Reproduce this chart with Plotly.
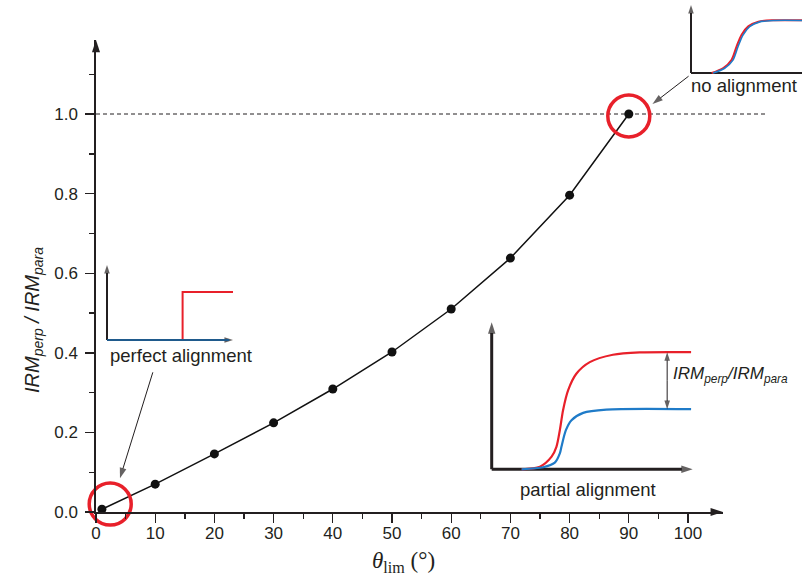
import plotly.graph_objects as go

W, H = 802, 578

# ---------------- data ----------------
theta_lim = [1, 10, 20, 30, 40, 50, 60, 70, 80, 90]
irm_ratio = [0.007, 0.070, 0.146, 0.224, 0.309, 0.402, 0.510, 0.638, 0.796, 1.0]

x_tick_vals = [0, 10, 20, 30, 40, 50, 60, 70, 80, 90, 100]
x_minor_vals = [5, 15, 25, 35, 45, 55, 65, 75, 85, 95]
y_tick_vals = [0.0, 0.2, 0.4, 0.6, 0.8, 1.0]
y_tick_text = ["0.0", "0.2", "0.4", "0.6", "0.8", "1.0"]
y_minor_vals = [0.1, 0.3, 0.5, 0.7, 0.9, 1.1]

# highlighted regions (red circles)
circle_theta = [2.4, 90.0]
circle_ratio = [0.02, 0.995]

# pointer arrows (tail -> tip) in data units
ptr_low_x = [9.6, 4.05]
ptr_low_y = [0.351, 0.085]
ptr_high_x = [100.1, 94.0]
ptr_high_y = [1.095, 1.025]

# inset: perfect alignment (local units 0..1)
perf_red_x = [0.6, 0.6, 1.0]
perf_red_y = [0.0, 0.64, 0.64]
perf_blue_x = [0.0, 0.97]
perf_blue_y = [0.0, 0.0]

# inset: partial alignment
part_red_x = [0.149, 0.240, 0.298, 0.322, 0.339, 0.355, 0.380, 0.421, 0.488, 0.603, 0.736, 0.992]
part_red_y = [0.0, 0.018, 0.086, 0.153, 0.266, 0.402, 0.537, 0.650, 0.729, 0.779, 0.795, 0.797]
part_blue_x = [0.149, 0.256, 0.314, 0.339, 0.347, 0.369, 0.397, 0.455, 0.570, 0.992]
part_blue_y = [0.0, 0.014, 0.045, 0.108, 0.153, 0.266, 0.334, 0.384, 0.406, 0.409]
part_gap_x = 0.873

# inset: no alignment
none_red_x = [0.186, 0.291, 0.366, 0.411, 0.456, 0.516, 0.607, 0.742, 1.0]
none_red_y = [0.0, 0.074, 0.196, 0.392, 0.564, 0.686, 0.755, 0.775, 0.775]
none_blue_x = [0.198, 0.303, 0.378, 0.423, 0.468, 0.528, 0.619, 0.754, 1.0]
none_blue_y = [0.0, 0.070, 0.190, 0.385, 0.558, 0.682, 0.752, 0.773, 0.773]

# ---------------- layout geometry ----------------
X0PX, Y0PX = 96, 512
XSCALE, YSCALE = 5.92, 398.0
XMAX, YMAX = 105.9, 1.186

INK = "#231f20"
RED = "#e8202a"
BLUE = "#1f7bc8"
NAVY = "#1f5a8c"
SANS = "Liberation Sans, Arial, sans-serif"
SERIF = "Liberation Serif, Times New Roman, serif"

fig = go.Figure()


def inset(ox, oy, lx, ly, pad=0.1):
    x_lo = max(0.0, ox - pad * lx)
    x_hi = min(W, ox + (1 + pad) * lx)
    y_lo = max(0.0, oy - (1 + pad) * ly)
    y_hi = min(H, oy + pad * ly)
    xr = [(x_lo - ox) / lx, (x_hi - ox) / lx]
    yr = [(oy - y_hi) / ly, (oy - y_lo) / ly]
    xd = [x_lo / W, x_hi / W]
    yd = [(H - y_hi) / H, (H - y_lo) / H]
    return dict(xr=xr, yr=yr, xd=xd, yd=yd, ox=ox, oy=oy, lx=lx, ly=ly)


def to_paper(ins, u, v):
    return (ins["ox"] + u * ins["lx"]) / W, (H - (ins["oy"] - v * ins["ly"])) / H


perf = inset(107, 340, 126, 75)
part = inset(491.7, 469.3, 201, 147)
none = inset(691, 73, 111, 68)


def line(x, y, color, width, xa="x", ya="y", shape="linear"):
    fig.add_trace(go.Scatter(
        x=x, y=y, mode="lines",
        line=dict(color=color, width=width, shape=shape, smoothing=0.8),
        xaxis=xa, yaxis=ya, showlegend=False, hoverinfo="skip", cliponaxis=False,
    ))


def arrow(x, y, color, width, head, xa="x", ya="y"):
    fig.add_trace(go.Scatter(
        x=x, y=y, mode="lines+markers",
        line=dict(color=color, width=width),
        marker=dict(symbol="arrow", size=[0] * (len(x) - 1) + [head], angleref="previous",
                    color=color, line=dict(width=0)),
        xaxis=xa, yaxis=ya, showlegend=False, hoverinfo="skip", cliponaxis=False,
    ))


# main data
fig.add_trace(go.Scatter(
    x=theta_lim, y=irm_ratio, mode="lines+markers",
    line=dict(color="#111111", width=1.5),
    marker=dict(color="#111111", size=9),
    cliponaxis=False, showlegend=False, hoverinfo="skip",
))
fig.add_trace(go.Scatter(
    x=circle_theta, y=circle_ratio, mode="markers",
    marker=dict(symbol="circle-open", size=42, color=RED, line=dict(color=RED, width=3.5)),
    cliponaxis=False, showlegend=False, hoverinfo="skip",
))

# main axis arrowheads
fig.add_trace(go.Scatter(
    x=[0, XMAX], y=[YMAX, 0], mode="markers",
    marker=dict(symbol="arrow", size=13, angle=[0, 90], color=INK, line=dict(width=0)),
    cliponaxis=False, showlegend=False, hoverinfo="skip",
))

# pointer arrows
arrow(ptr_low_x, ptr_low_y, INK, 1, 11)
arrow(ptr_high_x, ptr_high_y, INK, 1, 11)

# ---- inset: perfect alignment
arrow([0, 0], [0, 1], INK, 2, 9, "x2", "y2")
arrow([0, 1], [0, 0], INK, 2, 9, "x2", "y2")
line(perf_red_x, perf_red_y, RED, 2, "x2", "y2")
line(perf_blue_x, perf_blue_y, NAVY, 2.2, "x2", "y2")

# ---- inset: partial alignment
arrow([0, 0], [0, 1], INK, 3, 12, "x3", "y3")
arrow([0, 1], [0, 0], INK, 3, 12, "x3", "y3")
line(part_red_x, part_red_y, RED, 2.2, "x3", "y3", "spline")
line(part_blue_x, part_blue_y, BLUE, 2.2, "x3", "y3", "spline")
gap_mid = (part_red_y[-1] + part_blue_y[-1]) / 2
arrow([part_gap_x, part_gap_x], [gap_mid, part_red_y[-1]], INK, 1, 9, "x3", "y3")
arrow([part_gap_x, part_gap_x], [gap_mid, part_blue_y[-1]], INK, 1, 9, "x3", "y3")

# ---- inset: no alignment
arrow([0, 0], [0, 1], INK, 2, 9, "x4", "y4")
line([0, 1.05], [0, 0], INK, 2, "x4", "y4")
line(none_red_x, none_red_y, RED, 2, "x4", "y4", "spline")
line(none_blue_x, none_blue_y, BLUE, 1.6, "x4", "y4", "spline")

axis_common = dict(
    showgrid=False, zeroline=False, showline=True, linecolor=INK, linewidth=1.6,
    ticks="outside", tickcolor=INK, tickwidth=1.4, ticklen=9, automargin=False,
    tickfont=dict(family=SANS, size=17, color=INK),
)
hidden = dict(visible=False, showgrid=False, zeroline=False, fixedrange=True, automargin=False)

fig.update_layout(
    template="none",
    width=W, height=H,
    margin=dict(l=0, r=0, t=0, b=0, pad=0, autoexpand=False),
    paper_bgcolor="white", plot_bgcolor="rgba(0,0,0,0)",
    showlegend=False,
    xaxis=dict(
        **axis_common,
        domain=[X0PX / W, (X0PX + XMAX * XSCALE) / W],
        range=[0, XMAX], tickvals=x_tick_vals, ticklabelstandoff=-4,
        minor=dict(tickvals=x_minor_vals, ticks="outside", ticklen=5, tickcolor=INK, tickwidth=1.4),
        anchor="y",
    ),
    yaxis=dict(
        **axis_common,
        domain=[(H - Y0PX) / H, (H - Y0PX + YMAX * YSCALE) / H],
        range=[0, YMAX], tickvals=y_tick_vals, ticktext=y_tick_text, ticklabelstandoff=4,
        minor=dict(tickvals=y_minor_vals, ticks="outside", ticklen=5, tickcolor=INK, tickwidth=1.4),
        anchor="x",
    ),
    xaxis2=dict(**hidden, domain=perf["xd"], range=perf["xr"], anchor="y2"),
    yaxis2=dict(**hidden, domain=perf["yd"], range=perf["yr"], anchor="x2"),
    xaxis3=dict(**hidden, domain=part["xd"], range=part["xr"], anchor="y3"),
    yaxis3=dict(**hidden, domain=part["yd"], range=part["yr"], anchor="x3"),
    xaxis4=dict(**hidden, domain=none["xd"], range=none["xr"], anchor="y4"),
    yaxis4=dict(**hidden, domain=none["yd"], range=none["yr"], anchor="x4"),
)

# dashed reference line at ratio = 1
fig.add_shape(type="line", xref="paper", yref="paper",
              x0=X0PX / W, x1=765 / W,
              y0=(H - Y0PX + 1.0 * YSCALE) / H, y1=(H - Y0PX + 1.0 * YSCALE) / H,
              line=dict(color=INK, width=1, dash="4px,3px"), layer="below")

ann = []
lbl_font = dict(family=SANS, size=18.5, color=INK)
px, py = to_paper(perf, 0.59, -0.21)
ann.append(dict(x=px, y=py, xref="paper", yref="paper", text="perfect alignment",
                showarrow=False, font=lbl_font, xanchor="center", yanchor="middle"))
px, py = to_paper(part, 0.48, -0.14)
ann.append(dict(x=px, y=py, xref="paper", yref="paper", text="partial alignment",
                showarrow=False, font=lbl_font, xanchor="center", yanchor="middle"))
px, py = to_paper(none, 0.475, -0.19)
ann.append(dict(x=px, y=py, xref="paper", yref="paper", text="no alignment",
                showarrow=False, font=lbl_font, xanchor="center", yanchor="middle"))
px, py = to_paper(part, 0.893, 0.64)
ann.append(dict(x=px, y=py, xref="paper", yref="paper",
                text="<i>IRM<sub>perp</sub>/IRM<sub>para</sub></i>",
                showarrow=False, font=dict(family=SANS, size=17, color=INK),
                xanchor="left", yanchor="middle"))

# axis titles
ann.append(dict(x=(X0PX + 52 * XSCALE) / W, y=(H - 562) / H, xref="paper", yref="paper",
                text="<i>θ</i><sub>lim</sub> (°)", showarrow=False,
                font=dict(family=SERIF, size=23, color=INK), xanchor="center", yanchor="middle"))
ann.append(dict(x=33 / W, y=(H - 320) / H, xref="paper", yref="paper",
                text="<i>IRM<sub>perp</sub> / IRM<sub>para</sub></i>", textangle=-90,
                showarrow=False, font=dict(family=SANS, size=20, color=INK),
                xanchor="center", yanchor="middle"))

fig.update_layout(annotations=ann)

fig.write_html(
    "out.html",
    config={"displayModeBar": False, "staticPlot": True},
    post_script=(
        "document.documentElement.style.margin='0';"
        "document.body.style.margin='0';"
        "document.documentElement.style.overflow='hidden';"
        "document.body.style.overflow='hidden';"
        "var d=document.getElementById('{plot_id}');"
        "d.style.position='fixed';d.style.left='0px';d.style.top='0px';"
    ),
)
